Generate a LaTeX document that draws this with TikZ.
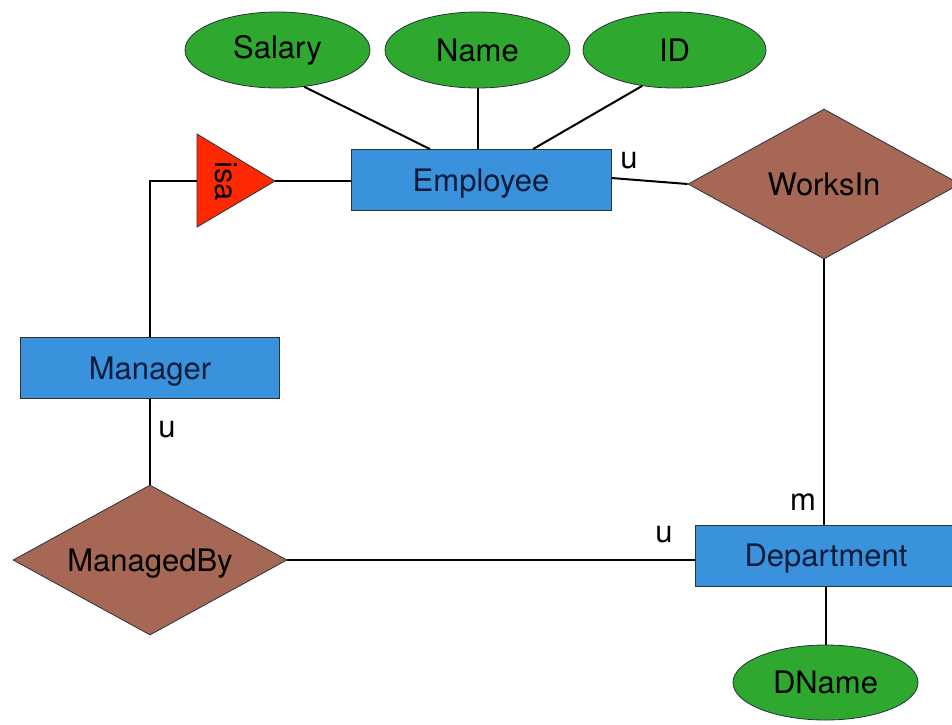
\documentclass[tikz,border=0pt]{standalone}
\usepackage{fontspec}
\setmainfont{TeX Gyre Heros}
\usetikzlibrary{shapes.geometric}
\definecolor{entityblue}{RGB}{58,145,220}
\definecolor{attrgreen}{RGB}{46,168,46}
\definecolor{relbrown}{RGB}{166,104,84}
\definecolor{isared}{RGB}{255,40,0}
\definecolor{edgedark}{RGB}{40,50,60}
\definecolor{entitytext}{RGB}{12,28,58}
\begin{document}
\begin{tikzpicture}[x=1pt,y=-1pt,
  font=\fontsize{31}{37}\selectfont,
  entity/.style={rectangle, draw=edgedark, line width=0.8pt, fill=entityblue,
    text=entitytext, text depth=0pt, minimum width=260pt, minimum height=61pt,
    inner sep=0pt},
  attribute/.style={ellipse, draw=edgedark, line width=0.8pt, fill=attrgreen,
    minimum width=185pt, minimum height=76pt, inner sep=0pt},
  relation/.style={diamond, draw=edgedark, line width=0.8pt, fill=relbrown,
    text depth=0pt, aspect=1.83, minimum width=274pt, minimum height=150pt,
    inner sep=0pt},
  link/.style={line width=2pt, black},
  card/.style={inner sep=0pt}]

% page
\useasboundingbox (0,0) rectangle (952,724);
\fill[white] (0,0) rectangle (952,724);

% corners of the isa triangle
\coordinate (isatop) at (197,134);
\coordinate (isabot) at (197,227);
\coordinate (isatip) at (275,181);
\coordinate (isabase) at (197,181);

% entities
\node[entity] (employee) at (481,180) {Employee};
\node[entity, minimum width=259pt] (manager) at (150,368) {Manager};
\node[entity, minimum width=262pt] (department) at (826,555.5) {Department};

% attributes
\node[attribute] (salary) at (277.5,50) {Salary};
\node[attribute] (name) at (477.5,50) {Name};
\node[attribute, minimum width=183pt] (id) at (674.5,50) {ID};
\node[attribute, minimum height=75pt] (dname) at (825.5,682.5) {DName};

% relationships
\node[relation, minimum width=272pt] (worksin) at (824,184) {WorksIn};
\node[relation] (managedby) at (150,560) {ManagedBy};

% attribute links
\draw[link] (salary.-54) -- ([xshift=-51pt]employee.north);
\draw[link] (name.south) -- (name.south |- employee.north);
\draw[link] (id.-132) -- ([xshift=52pt]employee.north);
\draw[link] (department.south -| dname.north) -- (dname.north);

% relationship links
\draw[link] ([yshift=2pt]employee.east) -- (worksin.west);
\draw[link] (worksin.south) -- (worksin.south |- department.north);
\draw[link] (managedby.east) -- (managedby.east -| department.west);
\draw[link] (manager.south) -- (managedby.north);

% isa hierarchy
\draw[link] (isatip) -- (isatip -| employee.west);
\draw[link] (isabase) -| (manager.north);
\filldraw[fill=isared, draw=edgedark, line width=0.8pt]
  (isatop) -- (isatip) -- (isabot) -- cycle;
\node[rotate=-90, inner sep=0pt] (isa) at (226,181) {isa};

% cardinalities
\node[card] (cardemp) at (629,161) {u};
\node[card] (cardmgr) at (167,430) {u};
\node[card] (carddeptmb) at (664,535) {u};
\node[card] (carddeptwi) at (803,502) {m};
\end{tikzpicture}
\end{document}
